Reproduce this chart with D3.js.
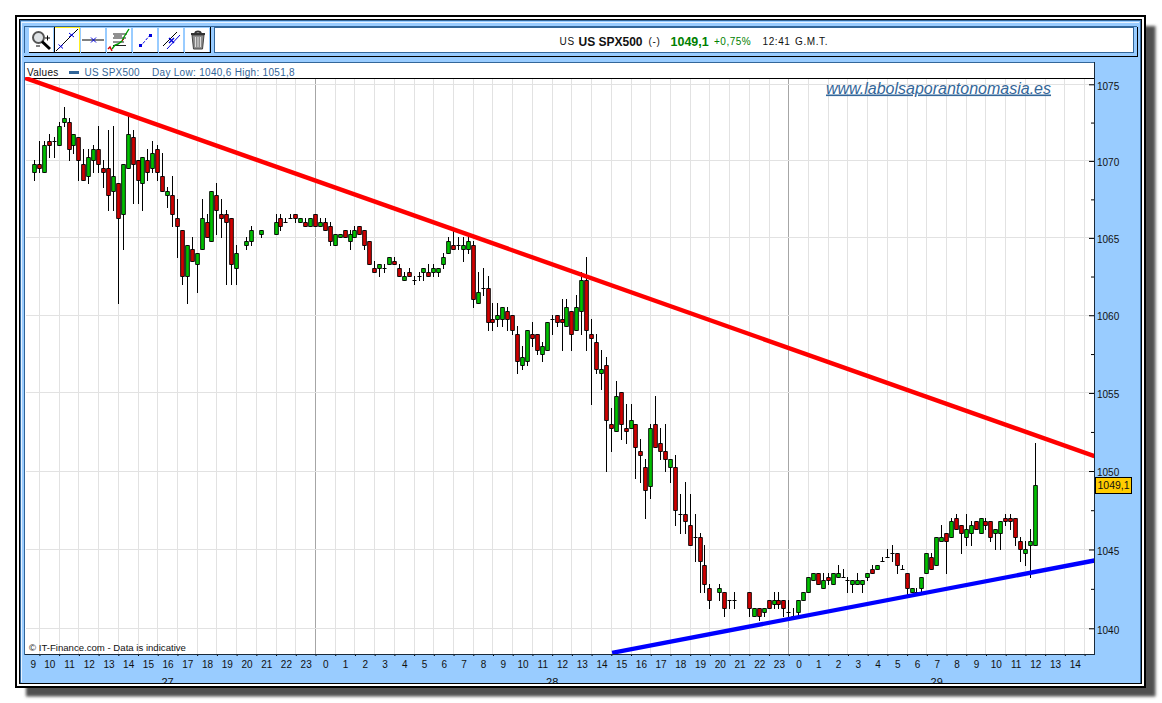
<!DOCTYPE html>
<html>
<head>
<meta charset="utf-8">
<title>US SPX500</title>
<script src="https://d3js.org/d3.v7.min.js"></script>
<style>
    body{margin:0;background:#fff;}
    svg{display:block;font-family:"Liberation Sans",Arial,sans-serif;}
    .axis text{font-size:10px;fill:#111;font-family:"Liberation Sans",Arial,sans-serif;}
</style>
</head>
<body>
<svg id="chart" width="1162" height="703"></svg>
<script>
// 15 minute candles, one slot per quarter hour from 9:45 on the 27th. null = no candle in that slot
const opens = [
 1069.25,1069.75,1069.25,1071.25,1071.25,1071,1072.5,1072.5,1071,1071.5,
 1069.75,1069,1070,1070.75,1069.5,1069.5,1068,1068.5,1066.5,1069.5,
 1071.5,1070,1068.5,1070,1069.5,1070.75,1069,1067.75,1067.75,1066.25,
 1065.5,1062.5,1064.25,1063.25,1064.25,1066,1064.75,1067.75,1066.5,1066.5,
 1066.25,1063,null,1064.5,1064.75,null,1065.25,null,null,1065.25,
 1066.25,1066,1066.25,1066.5,1066,1066,1065.75,1066.5,1065.75,1066,
 1065.75,1064.5,1065,1065.5,1064.75,1065,1065.75,1065.5,1064.75,1063,
 1063,1063,1063.25,1063.5,1063,1062.25,1062.75,1062.25,1062.5,1062.75,
 1062.75,1062.75,1062.75,1063.25,1064,1064.5,1064.5,1064.25,1064.25,1064.5,
 1060.75,1061.75,1061.75,1059.75,1059.75,1059.75,1060.25,1060,1058.75,1056.75,
 1057,1058.75,1058.75,1057.5,1057.75,1059.75,1060,1059.75,1059.25,1060.25,
 1059,1060.25,1062.25,1058.75,1058.25,1056.25,1056.75,1053,1052.5,1055,
 1052.75,1052.75,1053,1051.25,1050.25,1049,1053,1051.75,1051.25,1050.25,
 1050.25,1047.25,1047.25,1046.5,1045.75,1045.75,1044,1042.5,null,1042.25,
 1042.25,1041.75,1041.75,null,null,1042.25,1040.75,1041.25,1041,1041.75,
 1041.5,1041.75,1041.75,1041,1040.75,1041,1041.75,1042.25,1043,1043.5,
 1042.5,1043.25,1042.75,1043.25,1043.25,1043,1042.75,1042.75,1042.75,1043.25,
 1043.75,1043.75,1044.25,1044.5,1044.75,1044.75,1043.75,1043.5,1042.25,1042.25,
 1042.5,1043.5,1044.5,1044,1045.5,1046,1045.75,1047,1046.5,1045.75,
 1046,1046.75,1046,1046.75,1046.75,1046,1046,1047,1047,1047,
 1045.5,1044.75,1045.25,1045.25
];
const highs = [
 1070,1071.25,1071.25,1071.75,1071.5,1072.5,1073.5,1072.75,1071.75,1071.5,
 1070.75,1070.75,1071,1072.25,1070,1072,1072.25,1068.5,1069.75,1073,
 1072,1070,1070.25,1070.75,1071.25,1071,1070.5,1068.25,1069,1067.5,
 1065.5,1064.5,1065,1064,1067.5,1066.5,1068,1068.5,1067.5,1066.75,
 1066.25,1064.5,null,1065,1065.75,null,1065.5,null,null,1066.5,
 1066.5,1066.25,1066.5,1066.5,1066.25,1066.25,1066.25,1066.5,1066.25,1066.25,
 1066,1065.25,1065.25,1065.5,1065.5,1065.75,1065.75,1065.5,1064.75,1063.5,
 1063.25,1063.25,1063.75,1063.75,1063.25,1062.75,1063,1062.5,1062.75,1063,
 1063.25,1063.25,1063,1064,1065,1065.5,1065,1065,1065,1064.75,
 1062.75,1063,1062.5,1060.75,1060.75,1060.5,1060.5,1060,1059.25,1058,
 1059,1059.5,1058.75,1058.25,1059.5,1060,1060,1061,1061,1060.25,
 1061.25,1062.75,1063.75,1059.75,1058.75,1057.75,1057.25,1054,1055.75,1055,
 1054.25,1054.25,1053,1052,1050.75,1053,1054.75,1052.75,1053,1050.75,
 1051,1048.5,1049.25,1048.5,1047.25,1046,1045.25,1042.75,null,1042.75,
 1042.25,1041.75,1042.25,null,null,1042.25,1041.25,1041.25,1041.25,1041.75,
 1042.25,1042.25,1041.75,1041.75,1041.25,1041.75,1042.25,1043.25,1043.5,1043.5,
 1043.5,1043.5,1043.5,1044,1043.75,1043.25,1043,1043.5,1043,1043.5,
 1044,1044,1044.5,1045,1045.25,1044.75,1044,1043.5,1042.5,1042.5,
 1043.25,1044.75,1044.75,1045.75,1046.5,1046,1047,1047.25,1046.5,1047.25,
 1046.75,1046.75,1047,1047,1046.75,1046.25,1046.75,1047.25,1047.25,1047,
 1045.75,1045.5,1046.25,1051.75
];
const lows = [
 1068.75,1069.25,1069.25,1070.25,1070.25,1071,1072.25,1070,1070.5,1068.75,
 1068.75,1068.5,1069.25,1069.25,1068.25,1066.75,1066.75,1060.75,1064.25,1069.5,
 1067.25,1067.25,1066.75,1068.75,1069.25,1068.75,1068,1067,1065.75,1063.75,
 1062,1060.75,1063.5,1061.5,1064.25,1065,1064.75,1065.25,1065,1062,
 1062,1062,null,1064.25,1064.5,null,1065,null,null,1065.25,
 1065.5,1066,1066.25,1066,1066,1065.75,1065.75,1065.75,1065.75,1065.5,
 1064.5,1064.5,1065,1065,1064.25,1065,1065.25,1064.25,1063.25,1062.75,
 1062.5,1062.75,1063.25,1063.25,1062.5,1062.25,1062.5,1062,1062.25,1062.25,
 1062.5,1062.5,1062.5,1063,1064,1064.25,1064.25,1063.5,1064,1060.5,
 1060.75,1061.25,1059,1059,1059.25,1059.25,1059,1058.75,1056.25,1056.5,
 1056.75,1058,1057.5,1057,1057.75,1058.75,1059.25,1057.75,1059.25,1057.75,
 1059,1058.75,1057.75,1054.25,1056.25,1055.25,1050,1051.25,1052.5,1052,
 1051.75,1052.75,1049.5,1049.25,1047,1048.25,1051.5,1050.75,1050,1049.25,
 1046.5,1046,1046,1045.25,1044.25,1042.25,1042.25,1041.25,null,1041.75,
 1040.75,1041.25,1041.25,null,null,1040.75,1040.75,1040.5,1040.75,1041.25,
 1041.25,1041.25,1040.75,1040.75,1040.75,1040.75,1041.75,1042.25,1043,1042.75,
 1042.5,1042.75,1042.75,1043.25,1043.25,1042.25,1042.25,1042.75,1042.25,1043,
 1043.5,1043.75,1044.25,1044.5,1044.25,1043.5,1043.75,1042,1042.25,1042.25,
 1042.25,1043.5,1043.75,1044,1045.75,1043.5,1045.75,1046.25,1044.75,1045.25,
 1045.25,1046.25,1046,1046.25,1045.5,1045,1045,1046.5,1046.25,1045.25,
 1044.25,1044,1043.25,1045.25
];
const closes = [
 1069.75,1069.5,1071,1071,1071.25,1072.25,1072.75,1070.75,1071.75,1070,
 1068.75,1070.25,1070.75,1069.75,1069.25,1067.75,1069,1066.25,1069.75,1071.75,
 1069.75,1068.75,1070.25,1069.25,1070.5,1069.25,1068,1068,1066.5,1065.75,
 1062.5,1064.5,1063.5,1064,1066.25,1065,1068,1066.75,1066.25,1066,
 1063.25,1064,null,1064.75,1065.5,null,1065.5,null,null,1066,
 1065.75,1066,1066.25,1066.25,1066.25,1065.75,1066.25,1065.75,1066,1065.5,
 1064.75,1065.25,1065.25,1065,1065.25,1065.5,1065.25,1064.5,1063.25,1062.75,
 1063.25,1063,1063.75,1063.25,1062.5,1062.5,1062.5,1062.25,1062.5,1063,
 1062.5,1063,1063,1063.75,1064.75,1064.25,1064.5,1064.5,1064.75,1061,
 1061.5,1061.75,1059.5,1059.5,1060,1060.5,1059.75,1059,1057,1057.25,
 1059,1058.5,1057.75,1058,1059.5,1059.75,1059.5,1059.5,1060.5,1058.75,
 1060.5,1062.25,1059,1058.5,1056.5,1056.5,1053.25,1052.75,1054.75,1053,
 1052.5,1053.25,1051.5,1051,1048.75,1052.75,1051.5,1051.25,1050.75,1050.75,
 1047.5,1047.25,1046.75,1045.25,1045.75,1044.25,1042.75,1041.75,null,1042.5,
 1041.25,1041.75,1041.75,null,null,1041.25,1041.25,1040.75,1041.25,1041.25,
 1041.75,1041.5,1041.25,1041,1040.75,1041.75,1042.25,1043.25,1043.5,1042.75,
 1043,1043,1043.5,1043.5,1043.25,1043,1043,1043,1043,1043.5,
 1043.5,1044,1044.25,1044.5,1044.75,1044,1043.75,1042.5,1042.5,1042.25,
 1043.25,1044.75,1043.75,1045.75,1045.75,1045.5,1046.75,1046.25,1046,1046.25,
 1046.5,1046.25,1047,1046.5,1045.75,1046.25,1046.75,1046.75,1046.75,1045.75,
 1045,1045,1045.5,1049.1
];

// trend lines drawn by hand on the chart: [hour slot, price]
const redTrend = [[0.27,1075.42],[54.5,1050.95]];
const blueTrend = [[30.04,1038.45],[54.5,1044.3]];

const hourLabels = [9,10,11,12,13,14,15,16,17,18,19,20,21,22,23,
 0,1,2,3,4,5,6,7,8,9,10,11,12,13,14,15,16,17,18,19,20,21,22,23,
 0,1,2,3,4,5,6,7,8,9,10,11,12,13,14];
const dayLabels = [[27,0,15],[28,15,39],[29,39,54]];
const priceTicks = [1040,1045,1050,1055,1060,1065,1070,1075];
const minorPriceTicks = [1042.5,1047.5,1052.5,1057.5,1062.5,1067.5,1072.5];
const midnights = [15,39];
const lastPrice = 1049.1;

const svg = d3.select("svg#chart");

// plot box
const plot = {left:25, right:1094, top:78, bottom:654};

// x runs on hours since 9:00 of the first day
const x = d3.scaleLinear().domain([0,54]).range([19.7,1084.6]);
// price axis is logarithmic, the gridlines get slightly wider going down
const y = d3.scaleLog().domain([1040,1075]).range([628.3,84.3]);
const slotX = k => x(0.75 + k/4);
const snap = v => Math.floor(v)+0.5;

const candles = opens.map((o,i)=>({k:i, o:o, h:highs[i], l:lows[i], c:closes[i]})).filter(d=>d.o!==null);

// ---- frame ----
const defs = svg.append("defs");
defs.append("filter").attr("id","soft").attr("x","-2%").attr("y","-2%").attr("width","104%").attr("height","104%")
    .append("feGaussianBlur").attr("stdDeviation",1.4);
defs.append("clipPath").attr("id","plotClip").append("rect")
    .attr("x",plot.left).attr("y",plot.top-1).attr("width",plot.right-plot.left+1).attr("height",plot.bottom-plot.top+1);
defs.append("clipPath").attr("id","panelClip").append("rect")
    .attr("x",20).attr("y",20).attr("width",1121).attr("height",663);

function box(g,bx,by,w,h,fill,stroke,sw){
    return g.append("rect").attr("x",bx).attr("y",by).attr("width",w).attr("height",h)
        .attr("fill",fill).attr("stroke",stroke||"none").attr("stroke-width",sw||0)
        .attr("shape-rendering","crispEdges");
}

const frame = svg.append("g");
frame.append("rect").attr("x",26).attr("y",26).attr("width",1129.5).attr("height",670.5)
    .attr("fill","#505050").attr("filter","url(#soft)");
box(frame,15,15,1131,673,"#000");
box(frame,17,17,1127,669,"#fff");
box(frame,19,19,1123,665,"#000");
box(frame,20,20,1121,663,"#99ccff");
box(frame,20,20,1121,1,"#336699");
box(frame,20,20,1,663,"#336699");
box(frame,1140,21,1,662,"#336699");
box(frame,21,22,1118,1,"#e8f3ff");
box(frame,21,22,1,660,"#e8f3ff");

// toolbar strip
box(frame,24,26,1113,1,"#336699");
box(frame,24,26,1,27,"#336699");
box(frame,24,56,1114,1,"#000");
box(frame,1137,27,1,30,"#000");

// title box
box(frame,214,27,920,26,"#fff");
box(frame,214,27,920,1,"#336699");
box(frame,214,52,920,1,"#336699");
box(frame,214,27,1,26,"#336699");
box(frame,1133,27,1,26,"#336699");

// buttons
const buttonX = [29,55,81,107,133,159,185];
buttonX.forEach((bx,i)=>{
    box(frame,bx-0.5,27.5,25,25,"#fff",i==1?"#ffee22":"#99ccff",1);
    box(frame,bx+25,27,1,26,"#000");
    if(i==1) box(frame,bx-1,27,1,26,"#000");
    box(frame,bx,52,26,1,"#000");
});

// icons, just small shapes
const ic = svg.append("g").attr("fill","none");
// zoom
ic.append("circle").attr("cx",38.5).attr("cy",37.5).attr("r",5.5).attr("fill","#dfe3e6").attr("stroke","#555").attr("stroke-width",2);
ic.append("path").attr("d","M42,41.5L50,49").attr("stroke","#000").attr("stroke-width",3);
ic.append("path").attr("d","M45,38H50M47.5,35.5V40.5M36,46H40").attr("stroke","#000");
// trend line
ic.append("path").attr("d","M56,51L78,29").attr("stroke","#000");
ic.append("path").attr("d","M58.5,44.5L63,48.5M63,44.5L58.5,48.5M69,33L74,37M74,33L69,37").attr("stroke","#00d");
// horizontal line
ic.append("path").attr("d","M82,40H104").attr("stroke","#000");
ic.append("path").attr("d","M91,37.5L96,42.5M96,37.5L91,42.5").attr("stroke","#00d");
// retracement
ic.append("path").attr("d","M113,34H127M113,38H126M113,42H124M113,45.5H126M114,36H122").attr("stroke","#222");
ic.append("path").attr("d","M112,49L115,45L118,44L122,41L124,37L129,29").attr("stroke","#009900").attr("stroke-width",1.4);
ic.append("path").attr("d","M108,49L110,47L112,51").attr("stroke","#cc0000").attr("stroke-width",1.4);
ic.append("path").attr("d","M122,41L124,39").attr("stroke","#cc0000");
// channel
ic.append("path").attr("d","M140,47L150,35").attr("stroke","#00d").attr("stroke-dasharray","3 1.5");
ic.append("rect").attr("x",139).attr("y",44).attr("width",3).attr("height",3).attr("fill","#00d");
ic.append("rect").attr("x",149).attr("y",34).attr("width",3).attr("height",3).attr("fill","#00d");
// parallel
ic.append("path").attr("d","M163,46L177,32").attr("stroke","#000");
ic.append("path").attr("d","M167,49L180,35").attr("stroke","#00d");
ic.append("path").attr("d","M169,38L174,43M174,38L169,43").attr("stroke","#00d").attr("stroke-width",1.4);
// trash
ic.append("path").attr("d","M192,35L193.5,49H202.5L204,35Z").attr("fill","#8d8d8d").attr("stroke","#444");
ic.append("path").attr("d","M191,34H205M195,33C196,31 200,31 201,33").attr("stroke","#333").attr("stroke-width",2);
ic.append("path").attr("d","M195.5,37V47M198,37V47M200.5,37V47").attr("stroke","#ddd");

// title texts
const title = svg.append("g").attr("font-size",11).attr("fill","#111").attr("dominant-baseline","central");
function label(g,tx,ty,s,opts){
    const t = g.append("text").attr("x",tx).attr("y",ty).text(s);
    Object.entries(opts||{}).forEach(([k,v])=>t.attr(k,v));
    return t;
}
label(title,559.5,41.5,"US",{"font-size":10,"letter-spacing":0.7});
label(title,578.5,41.5,"US SPX500",{"font-size":12,"font-weight":"bold"});
label(title,648.5,41.5,"(-)",{"font-size":10,"letter-spacing":0.7});
label(title,670.5,41.5,"1049,1",{"font-size":12.5,"font-weight":"bold",fill:"#008000"});
label(title,714,41.5,"+0,75%",{"font-size":10,fill:"#008000","letter-spacing":0.5});
label(title,762.5,41.5,"12:41",{"font-size":10,"letter-spacing":0.6});
label(title,795,41.5,"G.M.T.",{"font-size":10,"letter-spacing":0.6});

// plot background
box(frame,plot.left,62,plot.right-plot.left,plot.bottom-62,"#fff");
box(frame,24,62,1071,1,"#336699");
box(frame,24,62,1,593,"#336699");

// ---- gridlines ----
const grid = svg.append("g").attr("shape-rendering","crispEdges");
grid.selectAll("line.v").data(d3.range(1,55)).join("line").attr("class","v")
    .attr("x1",d=>snap(x(d))).attr("x2",d=>snap(x(d)))
    .attr("y1",plot.top).attr("y2",plot.bottom)
    .attr("stroke",d=>midnights.includes(d)?"#a6a6a6":"#e2e2e2");
grid.selectAll("line.h").data(priceTicks).join("line").attr("class","h")
    .attr("x1",plot.left+1).attr("x2",plot.right)
    .attr("y1",d=>snap(y(d))).attr("y2",d=>snap(y(d)))
    .attr("stroke","#e2e2e2");
box(grid,plot.left,plot.top,plot.right-plot.left,1,"#000");

// ---- candles ----
const candleLayer = svg.append("g");
candleLayer.selectAll("line").data(candles).join("line")
    .attr("shape-rendering","crispEdges")
    .attr("x1",d=>snap(slotX(d.k))).attr("x2",d=>snap(slotX(d.k)))
    .attr("y1",d=>Math.floor(y(d.h))).attr("y2",d=>Math.ceil(y(d.l)))
    .attr("stroke","#000");
// bodies are not snapped sideways, about 4.6px wide with the outline so neighbours keep a small gap
candleLayer.selectAll("path").data(candles).join("path")
    .attr("d",d=>{
        const c = snap(slotX(d.k));
        const t = snap(y(Math.max(d.o,d.c))), b = snap(y(Math.min(d.o,d.c)));
        return `M${c-1.85},${t}H${c+1.85}V${b}H${c-1.85}Z`;
    })
    .attr("fill",d=>d.c>=d.o?"#00c000":"#d00000")
    .attr("stroke","#000")
    .attr("stroke-width",0.9);

// ---- trend lines ----
const trendLine = d3.line().x(d=>x(d[0])).y(d=>y(d[1]));
const trends = svg.append("g").attr("clip-path","url(#plotClip)").attr("fill","none").attr("stroke-width",4.4);
trends.append("path").attr("d",trendLine(redTrend)).attr("stroke","#ff0000");
trends.append("path").attr("d",trendLine(blueTrend)).attr("stroke","#0000ff");

// ---- plot texts ----
const legend = svg.append("g").attr("font-size",10);
label(legend,27,75.5,"Values",{fill:"#111","letter-spacing":0.3});
legend.append("rect").attr("x",69).attr("y",71).attr("width",10).attr("height",3).attr("fill","#336699");
label(legend,84.5,75.5,"US SPX500",{fill:"#336699","letter-spacing":0.2});
label(legend,152,75.5,"Day Low: 1040,6 High: 1051,8",{fill:"#336699","letter-spacing":0.3});

label(svg,826,93.5,"www.labolsaporantonomasia.es",{
    "font-size":16,"font-style":"italic","text-decoration":"underline",fill:"#336699"});
label(svg,29,651,"© IT-Finance.com - Data is indicative",{"font-size":9.6,fill:"#111"});

// ---- axes ----
const yAxis = d3.axisRight(y).tickValues(priceTicks).tickSize(-5).tickPadding(3).tickFormat(d3.format("d"));
const yMinor = d3.axisRight(y).tickValues(minorPriceTicks).tickSize(-3).tickFormat("");
const yG = svg.append("g").attr("class","axis").attr("transform",`translate(${plot.right},0)`).call(yAxis);
svg.append("g").attr("class","axis").attr("transform",`translate(${plot.right},0)`).call(yMinor).select(".domain").remove();
yG.select(".domain").remove();
// labels sit a touch under their tick
yG.selectAll("text").attr("y",1.5);

const xTicks = d3.axisBottom(x).tickValues(d3.range(1,55)).tickSize(2).tickFormat("");
const xG = svg.append("g").attr("class","axis").attr("transform",`translate(0,${plot.bottom})`).call(xTicks);
xG.select(".domain").remove();

// first slot is cut by the left edge so its label sits in what is left of it
const hourPos = hourLabels.map((h,i)=> i==0 ? 0.66 : i+0.5);
const xLabels = d3.axisBottom(x).tickValues(hourPos).tickSize(0).tickPadding(7)
    .tickFormat((d,i)=>hourLabels[i]);
const xL = svg.append("g").attr("class","axis").attr("transform",`translate(0,${plot.bottom})`).call(xLabels);
xL.select(".domain").remove();

// day numbers, the panel edge cuts them in half in the original
svg.append("g").attr("clip-path","url(#panelClip)").selectAll("text").data(dayLabels).join("text")
    .attr("x",d=>x((d[1]+d[2])/2)).attr("y",685.5).attr("text-anchor","middle")
    .attr("font-size",11).attr("fill","#111").text(d=>d[0]);

// box edges on top of the marks
box(svg,plot.right-0.5,62,1,plot.bottom-61,"#1a2a3a");
box(svg,plot.left,plot.bottom-0.5,plot.right-plot.left,1,"#1a2a3a");

// last price tag
const tag = svg.append("g");
box(tag,plot.right+1.5,y(lastPrice)-8,36,16,"#ffcc00","#000",1);
label(tag,plot.right+3.5,y(lastPrice)+3.5,"1049,1",{"font-size":10.5,fill:"#111"});
</script>
</body>
</html>
